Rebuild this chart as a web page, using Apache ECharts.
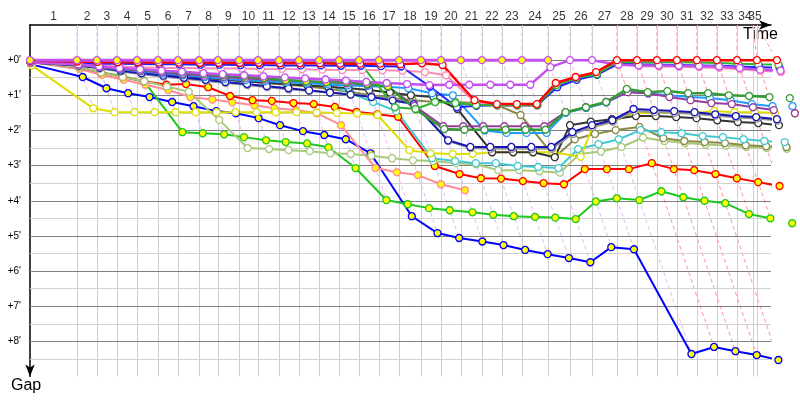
<!DOCTYPE html>
<html>
<head>
<meta charset="utf-8">
<script src="https://cdn.jsdelivr.net/npm/echarts@6/dist/echarts.min.js"></script>
<style>html,body{margin:0;padding:0;background:#fff}#c{width:800px;height:400px}</style>
</head>
<body>
<div id="c"></div>
<script>
// Leader's cumulative race time (minutes) at end of each lap (lap 0..35)
const lapTimes = [0, 3.95, 5.63, 7.31, 9.00, 10.76, 12.44, 14.21, 15.80, 17.57, 19.17, 20.93, 22.61, 24.30, 25.98, 27.66, 29.34, 31.02, 32.87, 34.55, 36.23, 38.00, 39.68, 41.36, 43.55, 45.40, 47.25, 49.35, 51.03, 52.71, 54.39, 56.07, 57.75, 59.44, 61.12, 62.80];
// Lap boundary grid lines (laps 1..35)
const lapGrid = [3.95, 5.63, 7.31, 9.00, 10.76, 12.44, 14.21, 15.80, 17.57, 19.17, 20.93, 22.61, 24.30, 25.98, 27.66, 29.34, 31.02, 32.87, 34.55, 36.23, 38.00, 39.68, 41.36, 43.55, 45.40, 47.25, 49.35, 51.03, 52.71, 54.39, 56.07, 57.75, 59.44, 60.78, 61.12];
const lapLabels = ['1','2','3','4','5','6','7','8','9','10','11','12','13','14','15','16','17','18','19','20','21','22','23','24','25','26','27','28','29','30','31','32','33','34','35'];
const gapMajor = [0, 1, 2, 3, 4, 5, 6, 7, 8];
const gapMinor = [0.5, 1.5, 2.5, 3.5, 4.5, 5.5, 6.5, 7.5, 8.5];

// Gaps to leader (minutes) per lap 0..35
const violetA = [0,0,0,0,0,0,0,0,0,0,0,0,0,0,0,0,0,0,0,0,0,0,0,0,0];
const violetB = [0.05,0.12,0.18,0.22,0.26,0.3,0.33,0.37,0.4,0.43,0.46,0.49,0.52,0.55,0.58,0.62,0.65,0.68,0.71,0.7,0.7,0.7,0.7,0.7,0.2,0,0,0.13,0.15,0.15,0.16,0.17,0.18,0.22,0.27,0.3];
const redW = [0.02,0.04,0.05,0.06,0.06,0.07,0.07,0.08,0.08,0.08,0.08,0.09,0.09,0.09,0.1,0.1,0.1,0.12,0.09,0.14,1.14,1.25,1.25,1.25,0.65,0.48,0.34,0,0,0,0,0,0,0,0,0];
const greenW = [0.03,0.03,0.04,0.04,0.04,0.05,0.05,0.05,0.05,0.05,0.05,0.05,0.06,0.06,0.06,0.06,1.34,1.39,1.19,1.22,1.28,1.28,1.28,1.28,0.71,0.51,0.4,0.05,0.06,0.06,0.06,0.07,0.08,0.1,0.12,0.13];
const blueW = [0.05,0.08,0.1,0.1,0.11,0.12,0.12,0.13,0.13,0.14,0.14,0.15,0.15,0.15,0.16,0.16,0.17,0.18,0.75,1.34,1.3,1.28,1.28,1.28,0.77,0.56,0.42,0.1,0.12,0.13,0.14,0.15,0.16,0.18,0.2,0.22];
const pinkW = [0.06,0.12,0.15,0.18,0.2,0.22,0.22,0.23,0.24,0.24,0.25,0.25,0.26,0.27,0.28,0.28,0.29,0.3,0.34,0.43,1.2,1.3,1.3,1.3,0.72,0.55,0.4,0.12,0.17,0.18,0.19,0.2,0.22,0.26,0.3,0.34];
const turq = [0.05,0.12,0.2,0.25,0.3,0.35,0.38,0.4,0.42,0.46,0.5,0.55,0.6,0.68,0.94,1.19,1.45,2.79,2.87,2.93,2.93,3.01,3.04,3.07,2.53,2.39,2.25,1.99,2.05,2.08,2.16,2.19,2.25,2.3,2.33];
const dkGreen = [0.05,0.12,0.17,0.22,0.27,0.31,0.35,0.39,0.43,0.47,0.51,0.57,0.6,0.63,0.63,0.68,0.75,1.4,1.96,1.98,1.98,1.98,1.98,1.98,1.48,1.34,1.19,0.82,0.91,0.88,0.94,0.94,1.0,1.02,1.05,1.08];
const purple = [0.06,0.14,0.2,0.25,0.3,0.35,0.4,0.44,0.48,0.52,0.55,0.58,0.6,0.63,0.66,0.7,0.75,1.3,1.88,1.88,1.88,1.88,1.88,1.88,1.48,1.34,1.19,0.91,0.94,1.05,1.14,1.22,1.25,1.34,1.42,1.51];
const lBlue = [0.06,0.13,0.2,0.26,0.32,0.38,0.43,0.48,0.53,0.57,0.6,0.63,0.66,0.69,0.72,0.74,0.76,0.8,0.94,1.0,2.0,2.07,2.07,2.07,1.5,1.36,1.21,0.9,0.95,1.0,1.05,1.08,1.14,1.25,1.31,1.31];
const navy = [0.07,0.15,0.22,0.3,0.37,0.44,0.5,0.56,0.62,0.68,0.74,0.8,0.86,0.92,0.98,1.05,1.15,1.25,2.28,2.47,2.47,2.47,2.47,2.47,2.05,1.85,1.71,1.39,1.42,1.45,1.48,1.54,1.59,1.62,1.68];
const grey = [0.07,0.16,0.24,0.32,0.4,0.47,0.53,0.59,0.65,0.71,0.77,0.83,0.88,0.93,0.98,1.03,1.1,1.22,2.3,2.5,2.52,2.52,2.52,2.52,2.1,1.9,1.75,1.45,1.48,1.5,1.53,1.58,1.63,1.66,1.72];
const black = [0.06,0.14,0.21,0.28,0.34,0.4,0.45,0.5,0.55,0.6,0.64,0.68,0.72,0.76,0.8,0.85,0.92,1.0,1.05,1.39,2.62,2.62,2.62,2.76,1.85,1.75,1.68,1.59,1.59,1.62,1.65,1.71,1.76,1.79,1.85];
const olive = [0.05,0.13,0.2,0.27,0.33,0.39,0.45,0.5,0.55,0.6,0.65,0.7,0.75,0.82,0.9,1.0,1.08,1.14,1.19,1.19,1.22,1.28,1.56,2.76,2.25,2.1,1.99,1.9,2.22,2.3,2.33,2.36,2.42,2.45,2.47];
const yellow = [0.15,1.37,1.48,1.48,1.48,1.48,1.48,1.48,1.48,1.48,1.48,1.48,1.49,1.5,1.52,1.56,2.56,2.65,2.67,2.67,2.62,2.62,2.62,2.62,2.75,1.9,1.75,1.5,1.5,1.5,1.5,1.45,1.48,1.48,1.5,1.51];
const lGreen = [0.06,0.2,0.35,0.48,0.6,0.75,0.9,1.7,2.5,2.53,2.56,2.59,2.65,2.67,2.72,2.79,2.85,2.87,2.93,2.96,3.13,3.13,3.16,3.2,2.67,2.6,2.47,2.2,2.3,2.36,2.4,2.43,2.47,2.5,2.52];
const redY = [0.06,0.2,0.35,0.48,0.6,0.7,0.68,0.77,1.02,1.14,1.16,1.22,1.25,1.33,1.47,1.54,1.61,3.01,3.24,3.36,3.37,3.44,3.5,3.53,3.1,3.1,3.1,2.93,3.1,3.13,3.24,3.36,3.47,3.58];
const pinkY = [0.05,0.25,0.42,0.56,0.7,0.85,1.05,1.12,1.2,1.28,1.37,1.42,1.51,1.85,3.07,3.19,3.27,3.53,3.7];
const greenY = [0.04,0.25,0.35,0.45,0.62,2.05,2.08,2.11,2.19,2.28,2.33,2.37,2.48,3.07,3.98,4.1,4.21,4.27,4.33,4.4,4.44,4.46,4.48,4.52,4.02,3.93,3.98,3.73,3.9,4.0,4.07,4.38,4.5,4.64];
const blueY = [0.12,0.48,0.8,0.94,1.05,1.19,1.31,1.45,1.51,1.65,1.85,2.02,2.13,2.25,2.65,4.44,4.92,5.06,5.16,5.26,5.4,5.52,5.63,5.75,5.32,5.38,8.36,8.16,8.28,8.39,8.53];

// name, gaps, colour, last lap with yellow marker fill, line width (drawing order: first = bottom)
const cars = [
  ['blueY', blueY, '#0000ff', 99, 2],
  ['greenY', greenY, '#1ec81e', 99, 2],
  ['pinkY', pinkY, '#ff8c9a', 99, 2],
  ['redY', redY, '#ff0000', 99, 2],
  ['lGreen', lGreen, '#a9c97a', -1, 2],
  ['olive', olive, '#8a8a48', -1, 2],
  ['turq', turq, '#44c8d0', -1, 2],
  ['yellow', yellow, '#dede00', -1, 2],
  ['black', black, '#333333', -1, 2],
  ['grey', grey, '#959595', -1, 2],
  ['navy', navy, '#1414b4', -1, 2],
  ['lBlue', lBlue, '#1e9cff', -1, 2],
  ['purple', purple, '#9a3c9e', -1, 2],
  ['dkGreen', dkGreen, '#359b35', 17, 2.5],
  ['pinkW', pinkW, '#ff8cb4', -1, 2],
  ['blueW', blueW, '#2020ff', -1, 2],
  ['greenW', greenW, '#2db52d', -1, 2],
  ['violetB', violetB, '#c44ef0', -1, 2.5],
  ['redW', redW, '#ff0000', -1, 2.5],
  ['violetA', violetA, '#c44ef0', 99, 3]
];

const series = [];
// grid lines
series.push({
  type: 'line', data: [], silent: true, z: 1, animation: false,
  markLine: {
    silent: true, symbol: ['none', 'none'], label: { show: false }, animation: false,
    data: [
      ...lapGrid.map(g => ({ xAxis: g, lineStyle: { color: '#cfcfcf', width: 1, type: 'solid' } })),
      ...gapMinor.map(g => ({ yAxis: g, lineStyle: { color: '#d2d2d2', width: 1, type: 'solid' } })),
      ...gapMajor.map(g => ({ yAxis: g, lineStyle: { color: '#808080', width: 1, type: 'solid' } }))
    ]
  }
});
// lap number labels, centred on each lap interval above the time axis
const mids = lapGrid.map((g, i) => (i === 0 ? g / 2 : (lapGrid[i - 1] + g) / 2));
series.push({
  type: 'scatter', silent: true, clip: false, animation: false, z: 6,
  symbolSize: 0,
  data: mids.map((m, i) => ({ value: [m, -1], name: lapLabels[i] })),
  label: { show: true, position: 'top', distance: 2, formatter: p => p.name, fontSize: 12, color: '#000', fontFamily: 'Liberation Sans' },
  labelLayout: { hideOverlap: false }
});
// lap lines (dashed) coloured by the lap leader
for (let k = 1; k < lapTimes.length; k++) {
  let G = 0, leaderColor = '#c44ef0';
  cars.forEach(c => {
    const g = c[1][k];
    if (g == null) return;
    if (g > G) G = g;
    if (g === 0) leaderColor = c[2];
  });
  series.push({
    type: 'line', silent: true, z: 2, clip: false, animation: false, symbol: 'none',
    lineStyle: { color: leaderColor, width: 1, type: [4, 3], opacity: 0.42 },
    data: [[lapGrid[k - 1], -1], [lapTimes[k], 0], [lapTimes[k] + G, G]]
  });
}
cars.forEach(([name, gaps, color, yUntil, w]) => {
  const data = [];
  gaps.forEach((g, k) => {
    if (g == null) return;
    data.push({ value: [lapTimes[k] + g, g], itemStyle: { color: k <= yUntil ? '#ffff00' : '#ffffff' } });
  });
  series.push({
    type: 'line', name, data, clip: false, silent: true, animation: false, z: 5,
    symbol: 'circle', symbolSize: 7, showSymbol: true,
    lineStyle: { color, width: w },
    itemStyle: { color: '#ffffff', borderColor: color, borderWidth: 1.3 }
  });
});

const chart = echarts.init(document.getElementById('c'), null, { renderer: 'canvas' });
chart.setOption({
  animation: false,
  backgroundColor: '#ffffff',
  grid: { left: 30, right: 29, top: 25, bottom: 23.5 },
  xAxis: {
    type: 'value', position: 'top', min: 0, max: 62.3,
    axisLine: { show: true, onZero: false, lineStyle: { color: '#000', width: 1.5 }, symbol: ['none', 'arrow'], symbolSize: [7, 12] },
    axisTick: { show: false },
    splitLine: { show: false },
    axisLabel: { show: false }
  },
  yAxis: {
    type: 'value', inverse: true, min: -1, max: 9, interval: 1,
    axisLine: { show: true, onZero: false, lineStyle: { color: '#000', width: 1.5 }, symbol: ['arrow', 'none'], symbolSize: [7, 12] },
    axisTick: { show: false },
    splitLine: { show: false },
    axisLabel: {
      margin: 9, fontSize: 10, color: '#000', fontFamily: 'Liberation Sans',
      formatter: v => (gapMajor.indexOf(v) >= 0 ? '+' + v + "'" : '')
    }
  },
  graphic: [
    { type: 'text', left: 743, top: 27, style: { text: 'Time', fontSize: 16, fontFamily: 'Liberation Sans', fill: '#000' } },
    { type: 'text', left: 11, top: 378, style: { text: 'Gap', fontSize: 16, fontFamily: 'Liberation Sans', fill: '#000' } }
  ],
  series
});
</script>
</body>
</html>
